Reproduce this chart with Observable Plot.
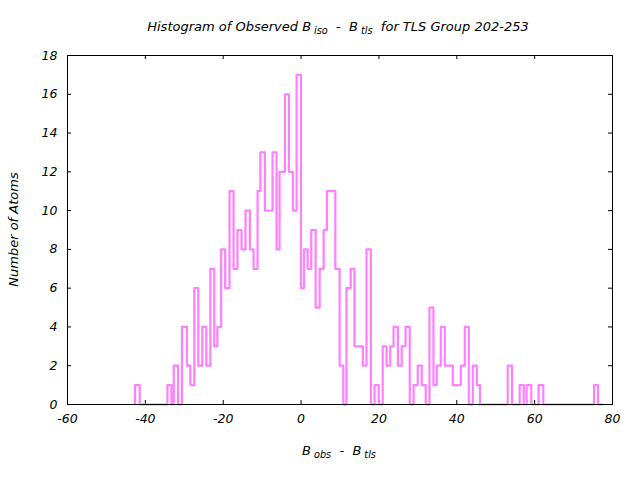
<!DOCTYPE html>
<html><head><meta charset="utf-8">
<script src="https://cdn.jsdelivr.net/npm/d3@7"></script>
<script src="https://cdn.jsdelivr.net/npm/@observablehq/plot@0.6"></script>
<style>body{margin:0;background:#fff;} svg{display:block}</style>
</head><body><div id="chart"></div>
<script>
// Step positions (B_obs - B_tls) where each step begins, and the atom count of that step
const stepX = [-42.65, -42.65, -41.45, -34.33, -33.3, -32.7, -31.6, -30.6, -29.3, -28.45,
  -27.43, -26.4, -25.37, -24.34, -23.3, -22.3, -21.5, -20.53, -19.5, -18.38,
  -17.35, -16.33, -15.3, -14.27, -13.15, -12.2, -11.18, -10.45, -9.29, -7.33,
  -6.3, -5.53, -4.15, -3.12, -2.09, -1.15, -0.03, 0.74, 1.68, 2.62,
  3.74, 4.77, 5.8, 6.65, 8.8, 9.9, 10.85, 11.65, 12.74, 13.72,
  15.87, 16.8, 17.93, 18.87, 19.94, 20.97, 21.96, 22.9, 23.76, 24.87,
  25.85, 26.84, 27.92, 28.9, 29.97, 31.0, 32.03, 32.98, 34.0, 34.86,
  35.89, 36.92, 38.97, 41.03, 42.06, 43.09, 44.12, 45.15, 45.95, 53.08,
  54.2, 56.15, 57.2, 57.93, 59.14, 61.02, 62.22, 75.27, 76.28, 77.4];
const stepCount = [0, 1, 0, 1, 0, 2, 0, 4, 2, 1,
  6, 2, 4, 2, 7, 3, 4, 8, 6, 11,
  7, 9, 8, 10, 8, 7, 11, 13, 10, 13,
  8, 12, 16, 12, 10, 17, 6, 8, 7, 9,
  5, 7, 9, 11, 7, 2, 0, 6, 7, 3,
  2, 8, 0, 1, 0, 3, 2, 3, 4, 2,
  3, 4, 0, 1, 2, 1, 0, 5, 1, 2,
  4, 2, 1, 2, 4, 0, 2, 1, 0, 2,
  0, 1, 0, 1, 0, 1, 0, 1, 0, 0];
const xTicks = [-60, -40, -20, 0, 20, 40, 60, 80];
const yTicks = [0, 2, 4, 6, 8, 10, 12, 14, 16, 18];
const titleText = ["Histogram of Observed B", "iso", "  -  B", "tls", "  for TLS Group 202-253"];
const xLabelText = ["B", "obs", "  -  B", "tls"];
const yLabelText = "Number of Atoms";

const data = stepX.map((x, i) => ({x, count: stepCount[i]}));

const W = 640, H = 480, mL = 67, mR = 28, mT = 55, mB = 76;
const frameW = W - mL - mR, frameH = H - mT - mB, tk = 4;
const font = "'DejaVu Sans', sans-serif";
const fmt = d => String(d);

const chart = Plot.plot({
  width: W, height: H,
  marginLeft: mL, marginRight: mR, marginTop: mT, marginBottom: mB,
  style: {fontFamily: font, fontStyle: "italic", fontSize: "12.5px", background: "white", color: "black"},
  x: {domain: [-60, 80]},
  y: {domain: [0, 18]},
  marks: [
    Plot.axisX(xTicks, {tickSize: 0, tickPadding: 10, tickFormat: fmt, label: null, fontSize: 12.5}),
    Plot.axisY(yTicks, {tickSize: 0, tickPadding: 10, tickFormat: fmt, label: null, fontSize: 12.5}),
    Plot.ruleX(xTicks, {x: d => d, insetTop: frameH - tk, stroke: "black"}),
    Plot.ruleX(xTicks, {x: d => d, insetBottom: frameH - tk, stroke: "black"}),
    Plot.ruleY(yTicks, {y: d => d, insetRight: frameW - tk, stroke: "black"}),
    Plot.ruleY(yTicks, {y: d => d, insetLeft: frameW - tk, stroke: "black"}),
    Plot.lineY(data, {x: "x", y: "count", curve: "step-after", stroke: "#ff7fff", strokeWidth: 2.2}),
    Plot.frame({stroke: "black"})
  ]
});
document.getElementById("chart").appendChild(chart);

const svg = d3.select(chart);
function richText(parts, x, y, size, transform) {
  const t = svg.append("text")
    .attr("x", x).attr("y", y)
    .attr("text-anchor", "middle")
    .attr("font-family", font).attr("font-style", "italic").attr("font-size", size)
    .attr("fill", "black")
    .style("white-space", "pre");
  if (transform) t.attr("transform", transform);
  parts.forEach((p, i) => {
    const sub = i % 2 === 1;
    const s = t.append("tspan").text(p);
    if (sub) s.attr("font-size", size * 0.75).attr("dy", 3).attr("dx", 3);
    else if (i > 0) s.attr("dy", -3);
  });
  return t;
}
richText(titleText, 338, 31, 13);
richText(xLabelText, 339, 455, 13);
richText([yLabelText], 0, 0, 13, "translate(18,229.5) rotate(-90)");
</script></body></html>
